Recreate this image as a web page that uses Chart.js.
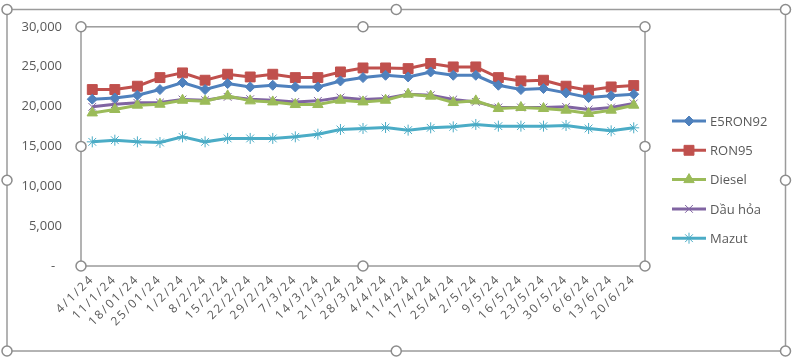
<!DOCTYPE html>
<html>
<head>
<meta charset="utf-8">
<script src="https://cdn.jsdelivr.net/npm/chart.js@4/dist/chart.umd.min.js"></script>
<style>
html,body{margin:0;padding:0;background:#fff;}
#wrap{position:relative;width:796px;height:360px;}
</style>
</head>
<body>
<div id="wrap"><canvas id="c" width="796" height="360"></canvas></div>
<script>
const categories = ["4/1/24","11/1/24","18/01/24","25/01/24","1/2/24","8/2/24","15/2/24","22/2/24","29/2/24","7/3/24","14/3/24","21/3/24","28/3/24","4/4/24","11/4/24","17/4/24","25/4/24","2/5/24","9/5/24","16/5/24","23/5/24","30/5/24","6/6/24","13/6/24","20/6/24"];
const e5ron92 = [20920,21080,21420,22130,23010,22130,22880,22460,22670,22460,22460,23210,23630,23920,23710,24340,23920,23920,22670,22130,22260,21710,21130,21340,21550];
const ron95   = [22130,22130,22550,23630,24220,23300,24050,23710,24050,23630,23630,24340,24840,24840,24760,25390,24970,24970,23630,23210,23300,22550,22050,22460,22630];
const diesel  = [19200,19630,20170,20290,20790,20670,21340,20710,20580,20250,20250,20790,20580,20790,21550,21300,20500,20710,19750,19880,19750,19540,19130,19540,20170];
const dauHoa  = [19960,20290,20460,20500,20880,20790,21210,20920,20790,20580,20710,21130,20880,21000,21550,21420,20880,20580,19880,19880,19880,19960,19630,19880,20380];
const mazut   = [15570,15780,15570,15490,16200,15570,16000,16000,16000,16200,16530,17120,17250,17370,17040,17330,17450,17750,17540,17540,17540,17620,17250,16950,17330];
const seriesNames = ["E5RON92","RON95","Diesel","Dầu hỏa","Mazut"];
const yTicks = [0,5000,10000,15000,20000,25000,30000];

const FONT = "'Open Sans', 'DejaVu Sans', sans-serif";
const TXT = '#595959';
const FRAME = '#9b9b9b';

function ds(label, data, color, style, radius, bw) {
  return {
    label, data,
    borderColor: color, backgroundColor: color,
    borderWidth: 3,
    pointStyle: style, pointRadius: radius, pointHoverRadius: radius,
    pointBackgroundColor: color, pointBorderColor: color, pointBorderWidth: bw,
    tension: 0, fill: false
  };
}

const spacingPlugin = {
  id: 'spacingPlugin',
  afterLayout(chart) {
    const sx = chart.scales.x;
    if (sx && !sx._spaced) {
      const orig = sx.drawLabels;
      sx.drawLabels = function(area) {
        const ctx = this.ctx;
        ctx.save();
        ctx.letterSpacing = '2px';
        orig.call(this, area);
        ctx.restore();
      };
      sx._spaced = true;
    }
  }
};

const framePlugin = {
  id: 'framePlugin',
  afterDraw(chart) {
    const ctx = chart.ctx;
    const a = chart.chartArea;
    ctx.save();
    ctx.strokeStyle = FRAME; ctx.lineWidth = 1.5;
    ctx.strokeRect(a.left, a.top, a.right - a.left, a.bottom - a.top);
    const o = {l: 7, t: 9.5, r: 785.5, b: 351};
    ctx.strokeRect(o.l, o.t, o.r - o.l, o.b - o.t);
    function handle(x, y) {
      ctx.beginPath(); ctx.arc(x, y, 5, 0, Math.PI * 2);
      ctx.fillStyle = '#fff'; ctx.fill();
      ctx.lineWidth = 1.5; ctx.strokeStyle = '#8c8c8c'; ctx.stroke();
    }
    const mx = (a.left + a.right) / 2, my = (a.top + a.bottom) / 2;
    [[a.left,a.top],[mx,a.top],[a.right,a.top],[a.left,my],[a.right,my],[a.left,a.bottom],[mx,a.bottom],[a.right,a.bottom]].forEach(p => handle(p[0], p[1]));
    const omx = (o.l + o.r) / 2, omy = (o.t + o.b) / 2;
    [[o.l,o.t],[omx,o.t],[o.r,o.t],[o.l,omy],[o.r,omy],[o.l,o.b],[omx,o.b],[o.r,o.b]].forEach(p => handle(p[0], p[1]));

    const x0 = 672, x1 = 706, tx = 710, y0 = 121, dy = 29.3;
    chart.data.datasets.forEach((d, i) => {
      const y = y0 + i * dy;
      ctx.strokeStyle = d.borderColor; ctx.lineWidth = 3;
      ctx.beginPath(); ctx.moveTo(x0, y); ctx.lineTo(x1, y); ctx.stroke();
      ctx.fillStyle = d.pointBackgroundColor; ctx.strokeStyle = d.pointBorderColor;
      ctx.lineWidth = d.pointBorderWidth;
      Chart.helpers.drawPoint(ctx, {pointStyle: d.pointStyle, radius: d.pointRadius, borderWidth: d.pointBorderWidth, rotation: 0}, (x0 + x1) / 2, y);
      ctx.fillStyle = TXT; ctx.font = '13px ' + FONT;
      ctx.textAlign = 'left'; ctx.textBaseline = 'middle';
      ctx.fillText(d.label, tx, y + 1);
    });
    ctx.restore();
  }
};

new Chart(document.getElementById('c'), {
  type: 'line',
  data: {
    labels: categories,
    datasets: [
      ds(seriesNames[0], e5ron92, '#4F81BD', 'rectRot', 5, 1),
      ds(seriesNames[1], ron95,   '#C0504D', 'rect', 7, 1),
      ds(seriesNames[2], diesel,  '#9BBB59', 'triangle', 6, 1),
      ds(seriesNames[3], dauHoa,  '#8064A2', 'crossRot', 5.5, 1),
      ds(seriesNames[4], mazut,   '#4BACC6', 'star', 5.5, 1)
    ]
  },
  options: {
    responsive: false,
    animation: false,
    devicePixelRatio: 1,
    layout: {padding: {top: 26, right: 151, bottom: 0, left: 0}},
    plugins: {legend: {display: false}, tooltip: {enabled: false}},
    scales: {
      x: {
        type: 'category',
        offset: true,
        grid: {display: false, drawTicks: false},
        border: {display: false},
        ticks: {
          autoSkip: false, maxRotation: 45, minRotation: 45, padding: 6,
          color: TXT, font: {family: FONT, size: 12}
        },
        afterFit(s) { s.height = 94; }
      },
      y: {
        min: 0, max: 30000,
        afterBuildTicks(s) { s.ticks = yTicks.map(v => ({value: v})); },
        grid: {display: false, drawTicks: false},
        border: {display: false},
        ticks: {
          padding: 19, color: TXT, font: {family: FONT, size: 13},
          callback: v => v === 0 ? '-  ' : v.toLocaleString('en-US')
        },
        afterFit(s) { s.width = 81; }
      }
    }
  },
  plugins: [spacingPlugin, framePlugin]
});
</script>
</body>
</html>
